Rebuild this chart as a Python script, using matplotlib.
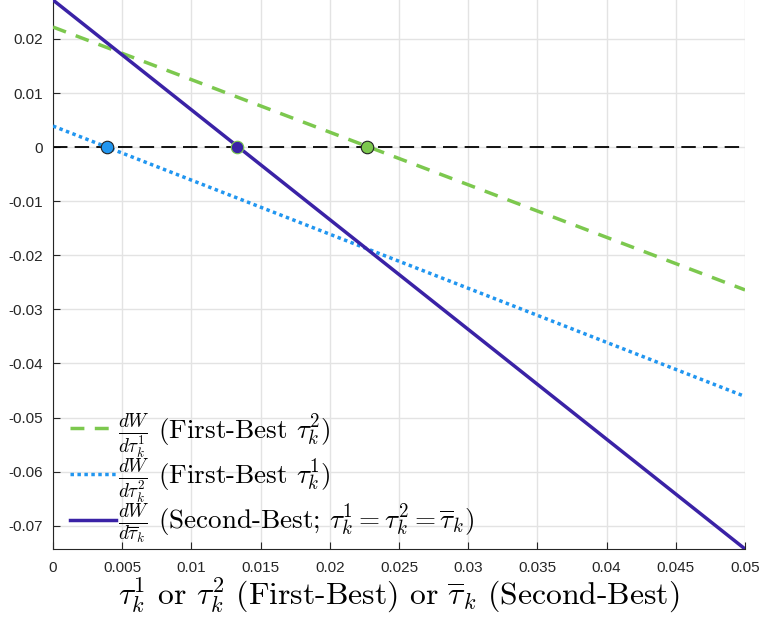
import matplotlib.pyplot as plt

plt.rcParams['mathtext.fontset'] = 'cm'

# endpoints of the three (linear) welfare derivative lines
x_ends = [0.0, 0.05]
dW_dtau1 = [0.0222, -0.0264]      # first-best tau^2 (green dashed)
dW_dtau2 = [0.0039, -0.0461]      # first-best tau^1 (blue dotted)
dW_dtaubar = [0.0272, -0.0743]    # second-best (purple solid)

# zero crossings
root_names = ['tau2', 'taubar', 'tau1']
root_x = [0.00388, 0.01327, 0.02267]

xticks = [0, 0.005, 0.01, 0.015, 0.02, 0.025, 0.03, 0.035, 0.04, 0.045, 0.05]
xticklabels = ['0', '0.005', '0.01', '0.015', '0.02', '0.025', '0.03', '0.035', '0.04', '0.045', '0.05']
yticks = [0.02, 0.01, 0, -0.01, -0.02, -0.03, -0.04, -0.05, -0.06, -0.07]
yticklabels = ['0.02', '0.01', '0', '-0.01', '-0.02', '-0.03', '-0.04', '-0.05', '-0.06', '-0.07']

green = '#7cc84e'
blue = '#2196f0'
purple = '#3a22a6'

fig = plt.figure(figsize=(7.59, 6.19), dpi=100)
ax = fig.add_axes([0.0698, 0.1131, 0.9118, 0.8869])

ax.plot(x_ends, [0, 0], color='black', lw=1.3, dashes=(8, 4), zorder=2)
l1, = ax.plot(x_ends, dW_dtau1, color=green, lw=2.5, dashes=(4, 3), zorder=3,
              label=r'$\frac{dW}{d\tau_k^1}$ (First-Best $\tau_k^2$)')
l2, = ax.plot(x_ends, dW_dtau2, color=blue, lw=2.5, dashes=(1, 1), zorder=3,
              label=r'$\frac{dW}{d\tau_k^2}$ (First-Best $\tau_k^1$)')
l3, = ax.plot(x_ends, dW_dtaubar, color=purple, lw=2.5, zorder=3,
              label=r'$\frac{dW}{d\overline{\tau}_k}$ (Second-Best; $\tau_k^1 = \tau_k^2 = \overline{\tau}_k$)')

ax.plot(root_x[0], 0, 'o', ms=9, mfc=blue, mec='#222222', mew=0.8, zorder=5)
ax.plot(root_x[1], 0, 'o', ms=9, mfc=purple, mec=green, mew=0.8, zorder=5)
ax.plot(root_x[2], 0, 'o', ms=9, mfc=green, mec='#222222', mew=0.8, zorder=5)

ax.set_xlim(x_ends[0], x_ends[1])
ax.set_ylim(dW_dtaubar[1], dW_dtaubar[0])
ax.set_xticks(xticks)
ax.set_xticklabels(xticklabels, fontsize=11, family='Liberation Sans')
ax.set_yticks(yticks)
ax.set_yticklabels(yticklabels, fontsize=11, family='Liberation Sans')
ax.tick_params(direction='in', length=5, color='#262626', labelcolor='#262626')
ax.tick_params(axis='x', pad=9)
ax.tick_params(axis='y', pad=7)
ax.grid(True, color='#e3e3e3', lw=1)
ax.set_axisbelow(True)
for s in ['top', 'right']:
    ax.spines[s].set_visible(False)
for s in ['left', 'bottom']:
    ax.spines[s].set_color('#262626')

ax.set_xlabel(r'$\tau_k^1$ or $\tau_k^2$ (First-Best) or $\overline{\tau}_k$ (Second-Best)',
              fontsize=22.8, family='cmr10', labelpad=0)

leg = ax.legend(handles=[l1, l2, l3], loc='lower left', bbox_to_anchor=(0.02, 0.0),
                frameon=False, prop={'family': 'cmr10', 'size': 19.5},
                handlelength=1.7, handletextpad=0.1, labelspacing=-0.12,
                borderaxespad=0.0, borderpad=0.1)

fig.savefig('out.png', dpi=100)
